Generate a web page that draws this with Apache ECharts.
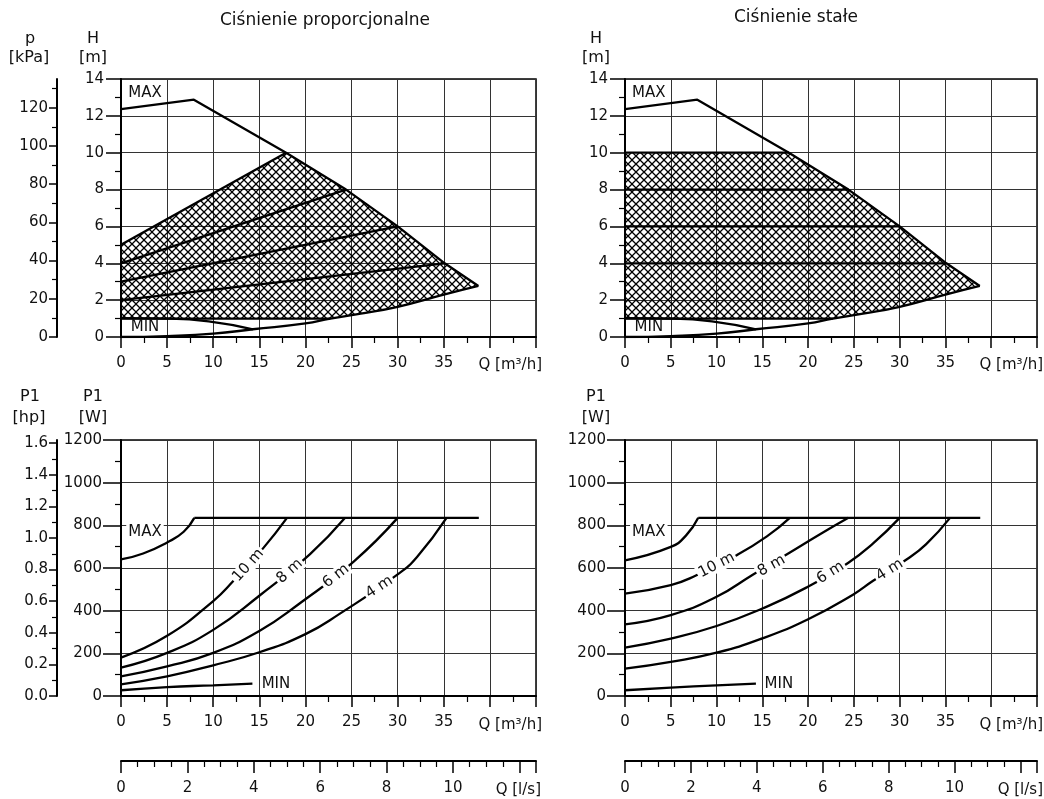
<!DOCTYPE html>
<html><head><meta charset="utf-8">
<script src="https://cdn.jsdelivr.net/npm/echarts@6/dist/echarts.min.js"></script>
<style>html,body{margin:0;padding:0;background:#fff}#c{width:1044px;height:799px}</style>
</head><body><div id="c"></div>
<script>
// ---------------- DATA ----------------
const qLabels = [0,5,10,15,20,25,30,35];           // labelled Q [m3/h] ticks
const qMax = 45;
const lsMax = 12.5;                                 // 45 m3/h = 12.5 l/s
const lsMajor = [0,2,4,6,8,10,12,12.5];
const lsMinor = [0.5,1,1.5,2.5,3,3.5,4.5,5,5.5,6.5,7,7.5,8.5,9,9.5,10.5,11,11.5];
const lsLabels = [0,2,4,6,8,10];
const kPaMax = 135;
const kPaTicks = [0,20,40,60,80,100,120];
const kPaMinor = [10,30,50,70,90,110,130];
const hpMax = 1.62;
const hpTicks = [0,0.2,0.4,0.6,0.8,1.0,1.2,1.4,1.6];
const hpMinor = [0.1,0.3,0.5,0.7,0.9,1.1,1.3,1.5];

// Head curves (H [m] vs Q [m3/h])
const maxCurveH = [[0,12.37],[7.9,12.88],[17.9,10.0],[24.4,8.0],[30.0,6.0],[35.1,4.0],[38.75,2.77]];
const systemCurveH = [[0,0],[5,0.05],[10,0.18],[14.3,0.42],[20,0.74],[22.7,1.0],[26,1.27],[30,1.64],[35,2.3],[38.75,2.77]];
const minCurveH = [[0,1.02],[5,1.0],[9.5,0.85],[14.3,0.42]];
const propLines = [[[0,5],[17.9,10]],[[0,4],[24.4,8]],[[0,3],[30,6]],[[0,2],[35.1,4]],[[0,1],[22.7,1]]];
const constLines = [[[0,10],[17.9,10]],[[0,8],[24.4,8]],[[0,6],[30,6]],[[0,4],[35.1,4]],[[0,1],[22.7,1]]];

// Power curves, proportional pressure (P1 [W] vs Q)
const propMaxP = [[0,640],[2.4,668],[5,720],[6.8,770],[7.95,835]];
const propMaxFlat = [[7.95,835],[38.8,835]];
const prop10 = [[0,180],[5,282],[10,445],[12.2,540],[15.4,692],[18,835]];
const prop8 = [[0,133],[5,202],[10,310],[15,470],[20.5,665],[24.3,835]];
const prop6 = [[0,92],[5,139],[10,202],[15,305],[19.4,435],[25.2,629],[30,835]];
const prop4 = [[0,55],[5,92],[10,144],[15,205],[20,290],[23.7,385],[30,570],[32.1,652],[35.3,835]];
const propMinP = [[0,27],[5,42],[10,50],[14.25,58]];

// Power curves, constant pressure
const constMaxP = [[0,636],[5,699],[6.7,754],[8.0,835]];
const constMaxFlat = [[8.0,835],[38.8,835]];
const const10 = [[0,480],[5,520],[7.8,566],[12.2,660],[15.5,748],[18,835]];
const const8 = [[0,336],[5,379],[10,465],[14,570],[17.65,663],[21.3,758],[24.4,835]];
const const6 = [[0,227],[5,269],[10,328],[15,410],[19.8,508],[24.4,625],[27.1,715],[30,835]];
const const4 = [[0,128],[5,160],[10,203],[15,270],[20,360],[24.9,475],[27.1,540],[30.75,640],[32.9,712],[35.5,835]];
const constMinP = [[0,27],[5,39],[10,50],[14.3,58]];

// Text labels anchored in data space: [text, Q, value, rotation, whiteBackground]
const headLabels = [['MAX',2.6,13.26,0,false],['MIN',2.6,0.54,0,false]];
const powerLabels = [['MAX',2.6,770,0,true],['MIN',16.8,55,0,false]];
const propCurveLabels = [['10 m',13.8,612,48,true],['8 m',18.3,585,42,true],['6 m',23.3,562,38,true],['4 m',28.0,510,33,true]];
const constCurveLabels = [['10 m',10.0,613,27,true],['8 m',16.0,610,29,true],['6 m',22.45,578,32,true],['4 m',28.9,590,32,true]];

// ---------------- CHART ----------------
const FONT = "'DejaVu Sans', 'Noto Sans', sans-serif";
const TXT = '#111';
const GRIDC = '#333';

const hatch = (() => {
  const c = document.createElement('canvas');
  c.width = 8; c.height = 8;
  const g = c.getContext('2d');
  g.strokeStyle = '#000'; g.lineWidth = 1.3;
  g.beginPath();
  g.moveTo(-1,-1); g.lineTo(9,9);
  g.moveTo(9,-1); g.lineTo(-1,9);
  g.stroke();
  return c;
})();

function region(lines) {
  const top = lines[0], bot = lines[lines.length - 1];
  return [top[0],
    ...maxCurveH.filter(p => p[0] >= top[1][0]),
    ...systemCurveH.filter(p => p[0] >= bot[1][0]).reverse(),
    bot[0]];
}

function lineS(data, gi, smooth) {
  const s = {type:'line', xAxisIndex:gi, yAxisIndex:gi, data, symbol:'none', showSymbol:false,
    lineStyle:{color:'#000', width:2.3}, silent:true, z:3, animation:false};
  if (smooth) { s.smooth = smooth; }
  return s;
}
function regionS(pts, gi) {
  return {type:'custom', xAxisIndex:gi, yAxisIndex:gi, data:[[0,0]], silent:true, z:2, animation:false,
    renderItem: (params, api) => ({type:'polygon', shape:{points: pts.map(p => api.coord(p))},
      style:{fill:{image:hatch, repeat:'repeat'}, stroke:null}})};
}
function labelS(items, gi, fs) {
  return {type:'scatter', xAxisIndex:gi, yAxisIndex:gi, symbolSize:1,
    itemStyle:{color:'rgba(255,255,255,0)', opacity:1},
    silent:true, z:10, animation:false,
    label:{show:true, position:'inside', color:TXT, opacity:1, fontFamily:FONT, fontSize:fs,
      padding:[0,2], textBorderWidth:0},
    data: items.map(([t,x,y,r,bg]) => ({value:[x,y],
      label:{show:true, formatter:t, rotate:r, color:TXT, opacity:1,
        backgroundColor: bg ? '#fff' : 'transparent'}}))};
}

const lab = {color:TXT, fontSize:15, fontFamily:FONT};
const blackLine = {color:'#000', width:2};

function qAxis(gi) {
  return {type:'value', gridIndex:gi, position:'bottom', min:0, max:qMax, interval:5,
    axisLine:{show:true, onZero:false, lineStyle:blackLine},
    axisTick:{show:true, length:11, lineStyle:{color:'#000', width:1.5}},
    minorTick:{show:true, splitNumber:2, length:6, lineStyle:{color:'#000', width:1.2}},
    splitLine:{show:true, lineStyle:{color:GRIDC, width:1}},
    axisLabel:Object.assign({margin:19, formatter: v => qLabels.includes(v) ? String(v) : ''}, lab)};
}
function valAxis(gi, max, interval, tickLen, margin) {
  return {type:'value', gridIndex:gi, position:'left', min:0, max, interval,
    axisLine:{show:true, onZero:false, lineStyle:blackLine},
    axisTick:{show:true, length:tickLen, lineStyle:{color:'#000', width:1.5}},
    minorTick:{show:true, splitNumber:2, length:6, lineStyle:{color:'#000', width:1.2}},
    splitLine:{show:true, lineStyle:{color:GRIDC, width:1}},
    axisLabel:Object.assign({margin, formatter: v => String(v)}, lab)};
}
function sideAxis(gi, max, major, minor, fmt) {
  return [
    {type:'value', gridIndex:gi, position:'left', offset:64, min:0, max,
     axisLine:{show:true, onZero:false, lineStyle:blackLine},
     axisTick:{show:true, length:8, customValues:major, lineStyle:{color:'#000', width:1.5}},
     minorTick:{show:false}, splitLine:{show:false},
     axisLabel:Object.assign({margin:9, customValues:major,
       formatter: v => major.some(m => Math.abs(m - v) < 1e-6) ? fmt(v) : ''}, lab)},
    {type:'value', gridIndex:gi, position:'left', offset:64, min:0, max,
     axisLine:{show:false, onZero:false},
     axisTick:{show:true, length:5, customValues:minor, lineStyle:{color:'#000', width:1.2}},
     minorTick:{show:false}, splitLine:{show:false}, axisLabel:{show:false}}
  ];
}
function lsAxes(gi) {
  return [
    {type:'value', gridIndex:gi, position:'top', min:0, max:lsMax,
     axisLine:{show:true, onZero:false, lineStyle:blackLine},
     axisTick:{show:true, inside:true, length:12, customValues:lsMajor, lineStyle:{color:'#000', width:1.5}},
     minorTick:{show:false}, splitLine:{show:false},
     axisLabel:Object.assign({inside:true, margin:20, customValues:lsLabels,
       formatter: v => lsLabels.includes(v) ? String(v) : ''}, lab)},
    {type:'value', gridIndex:gi, position:'top', min:0, max:lsMax,
     axisLine:{show:false, onZero:false},
     axisTick:{show:true, inside:true, length:6, customValues:lsMinor, lineStyle:{color:'#000', width:1.2}},
     minorTick:{show:false}, splitLine:{show:false}, axisLabel:{show:false}}
  ];
}

const gridBase = {show:true, borderColor:'#000', borderWidth:1.5, backgroundColor:'transparent',
  containLabel:false, outerBoundsMode:'none'};
const grid = [
  Object.assign({left:121, top:79, width:415, height:258}, gridBase),
  Object.assign({left:625, top:79, width:412, height:258}, gridBase),
  Object.assign({left:121, top:440, width:415, height:256}, gridBase),
  Object.assign({left:625, top:440, width:412, height:256}, gridBase),
  {show:false, left:121, top:761, width:415, height:12, containLabel:false, outerBoundsMode:'none'},
  {show:false, left:625, top:761, width:412, height:12, containLabel:false, outerBoundsMode:'none'}
];

const xAxis = [qAxis(0), qAxis(1), qAxis(2), qAxis(3), ...lsAxes(4), ...lsAxes(5)];
const yAxis = [
  valAxis(0, 14, 2, 15, 17), valAxis(1, 14, 2, 15, 17),
  valAxis(2, 1200, 200, 18, 19), valAxis(3, 1200, 200, 18, 19),
  ...sideAxis(0, kPaMax, kPaTicks, kPaMinor, v => String(v)),
  ...sideAxis(2, hpMax, hpTicks, hpMinor, v => v.toFixed(1)),
  {type:'value', gridIndex:4, show:false, min:0, max:1},
  {type:'value', gridIndex:5, show:false, min:0, max:1}
];

const SM = 0.5;
const series = [
  // proportional pressure, head
  regionS(region(propLines), 0),
  lineS(maxCurveH, 0), lineS(systemCurveH, 0, SM), lineS(minCurveH, 0, SM),
  ...propLines.map(l => lineS(l, 0)),
  labelS(headLabels, 0, 15),
  // constant pressure, head
  regionS(region(constLines), 1),
  lineS(maxCurveH, 1), lineS(systemCurveH, 1, SM), lineS(minCurveH, 1, SM),
  ...constLines.map(l => lineS(l, 1)),
  labelS(headLabels, 1, 15),
  // proportional pressure, power
  lineS(propMaxP, 2, SM), lineS(propMaxFlat, 2),
  ...[prop10, prop8, prop6, prop4, propMinP].map(d => lineS(d, 2, SM)),
  labelS(powerLabels, 2, 15), labelS(propCurveLabels, 2, 15),
  // constant pressure, power
  lineS(constMaxP, 3, SM), lineS(constMaxFlat, 3),
  ...[const10, const8, const6, const4, constMinP].map(d => lineS(d, 3, SM)),
  labelS(powerLabels, 3, 15), labelS(constCurveLabels, 3, 15)
];

const texts = [
  ['Ciśnienie proporcjonalne', 325, 21, 17, 'center'],
  ['Ciśnienie stałe', 796, 18, 17, 'center'],
  ['p', 30, 39, 16, 'center'], ['[kPa]', 29, 58, 16, 'center'],
  ['H', 93, 39, 16, 'center'], ['[m]', 93, 58, 16, 'center'],
  ['H', 596, 39, 16, 'center'], ['[m]', 596, 58, 16, 'center'],
  ['P1', 30, 397, 16, 'center'], ['[hp]', 29, 418, 16, 'center'],
  ['P1', 93, 397, 16, 'center'], ['[W]', 93, 418, 16, 'center'],
  ['P1', 596, 397, 16, 'center'], ['[W]', 596, 418, 16, 'center'],
  ['Q [m³/h]', 542, 365, 15, 'right'], ['Q [m³/h]', 1043, 365, 15, 'right'],
  ['Q [m³/h]', 542, 725, 15, 'right'], ['Q [m³/h]', 1043, 725, 15, 'right'],
  ['Q [l/s]', 541, 790, 15, 'right'], ['Q [l/s]', 1043, 790, 15, 'right']
];
const graphic = texts.map(([t, x, y, s, a]) => ({type:'text', x, y, silent:true,
  style:{text:t, fill:TXT, font:`${s}px ${FONT}`, align:a, verticalAlign:'middle'}}));

const chart = echarts.init(document.getElementById('c'), null, {renderer:'canvas'});
chart.setOption({animation:false, backgroundColor:'#fff', grid, xAxis, yAxis, series, graphic,
  textStyle:{fontFamily:FONT}});
</script></body></html>
